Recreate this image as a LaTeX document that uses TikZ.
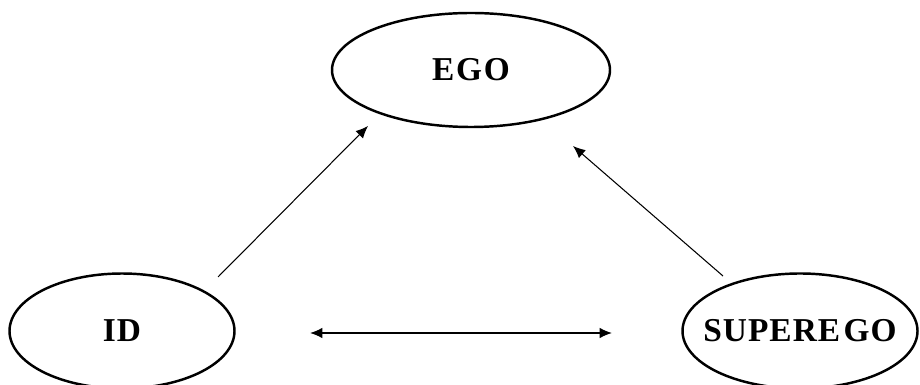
\documentclass[tikz,border=0pt]{standalone}
\usepackage{fontspec}
\setmainfont{Liberation Serif}
\newfontfamily\labelfont[LetterSpace=3]{Liberation Serif}
\usepackage{tikz}
\usetikzlibrary{positioning,arrows.meta,shapes.geometric}

\begin{document}
\begin{tikzpicture}[
  psyche/.style={draw, ellipse, line width=1.4pt, inner sep=0pt, font=\labelfont\fontsize{19}{22}\selectfont\bfseries},
  arrow/.style={-{Latex[length=7pt,width=6pt]}, line width=0.6pt},
  twoway/.style={{Latex[length=7pt,width=6pt]}-{Latex[length=7pt,width=6pt]}, line width=0.8pt}
]
\useasboundingbox (0,0) rectangle (18.4,7.68);

\node[psyche, minimum width=5.56cm, minimum height=2.28cm] (ego) at (9.42,6.28) {\makebox[0pt]{E\kern1pt G\kern1pt O}};
\node[psyche, minimum width=4.5cm, minimum height=2.3cm] (id) at (2.44,1.06) {\makebox[0pt]{ID}};
\node[psyche, minimum width=4.7cm, minimum height=2.3cm] (superego) at (16.0,1.06) {\makebox[0pt]{SUPERE\kern2pt GO}};

\draw[arrow] ([shift={(1.92,1.08)}]id.center) -- ([shift={(-2.06,-1.12)}]ego.center);
\draw[arrow] ([shift={(-1.54,1.10)}]superego.center) -- ([shift={(2.04,-1.52)}]ego.center);
\draw[twoway] ([shift={(3.76,-0.04)}]id.center) -- ([shift={(-3.76,-0.04)}]superego.center);

\end{tikzpicture}
\end{document}
